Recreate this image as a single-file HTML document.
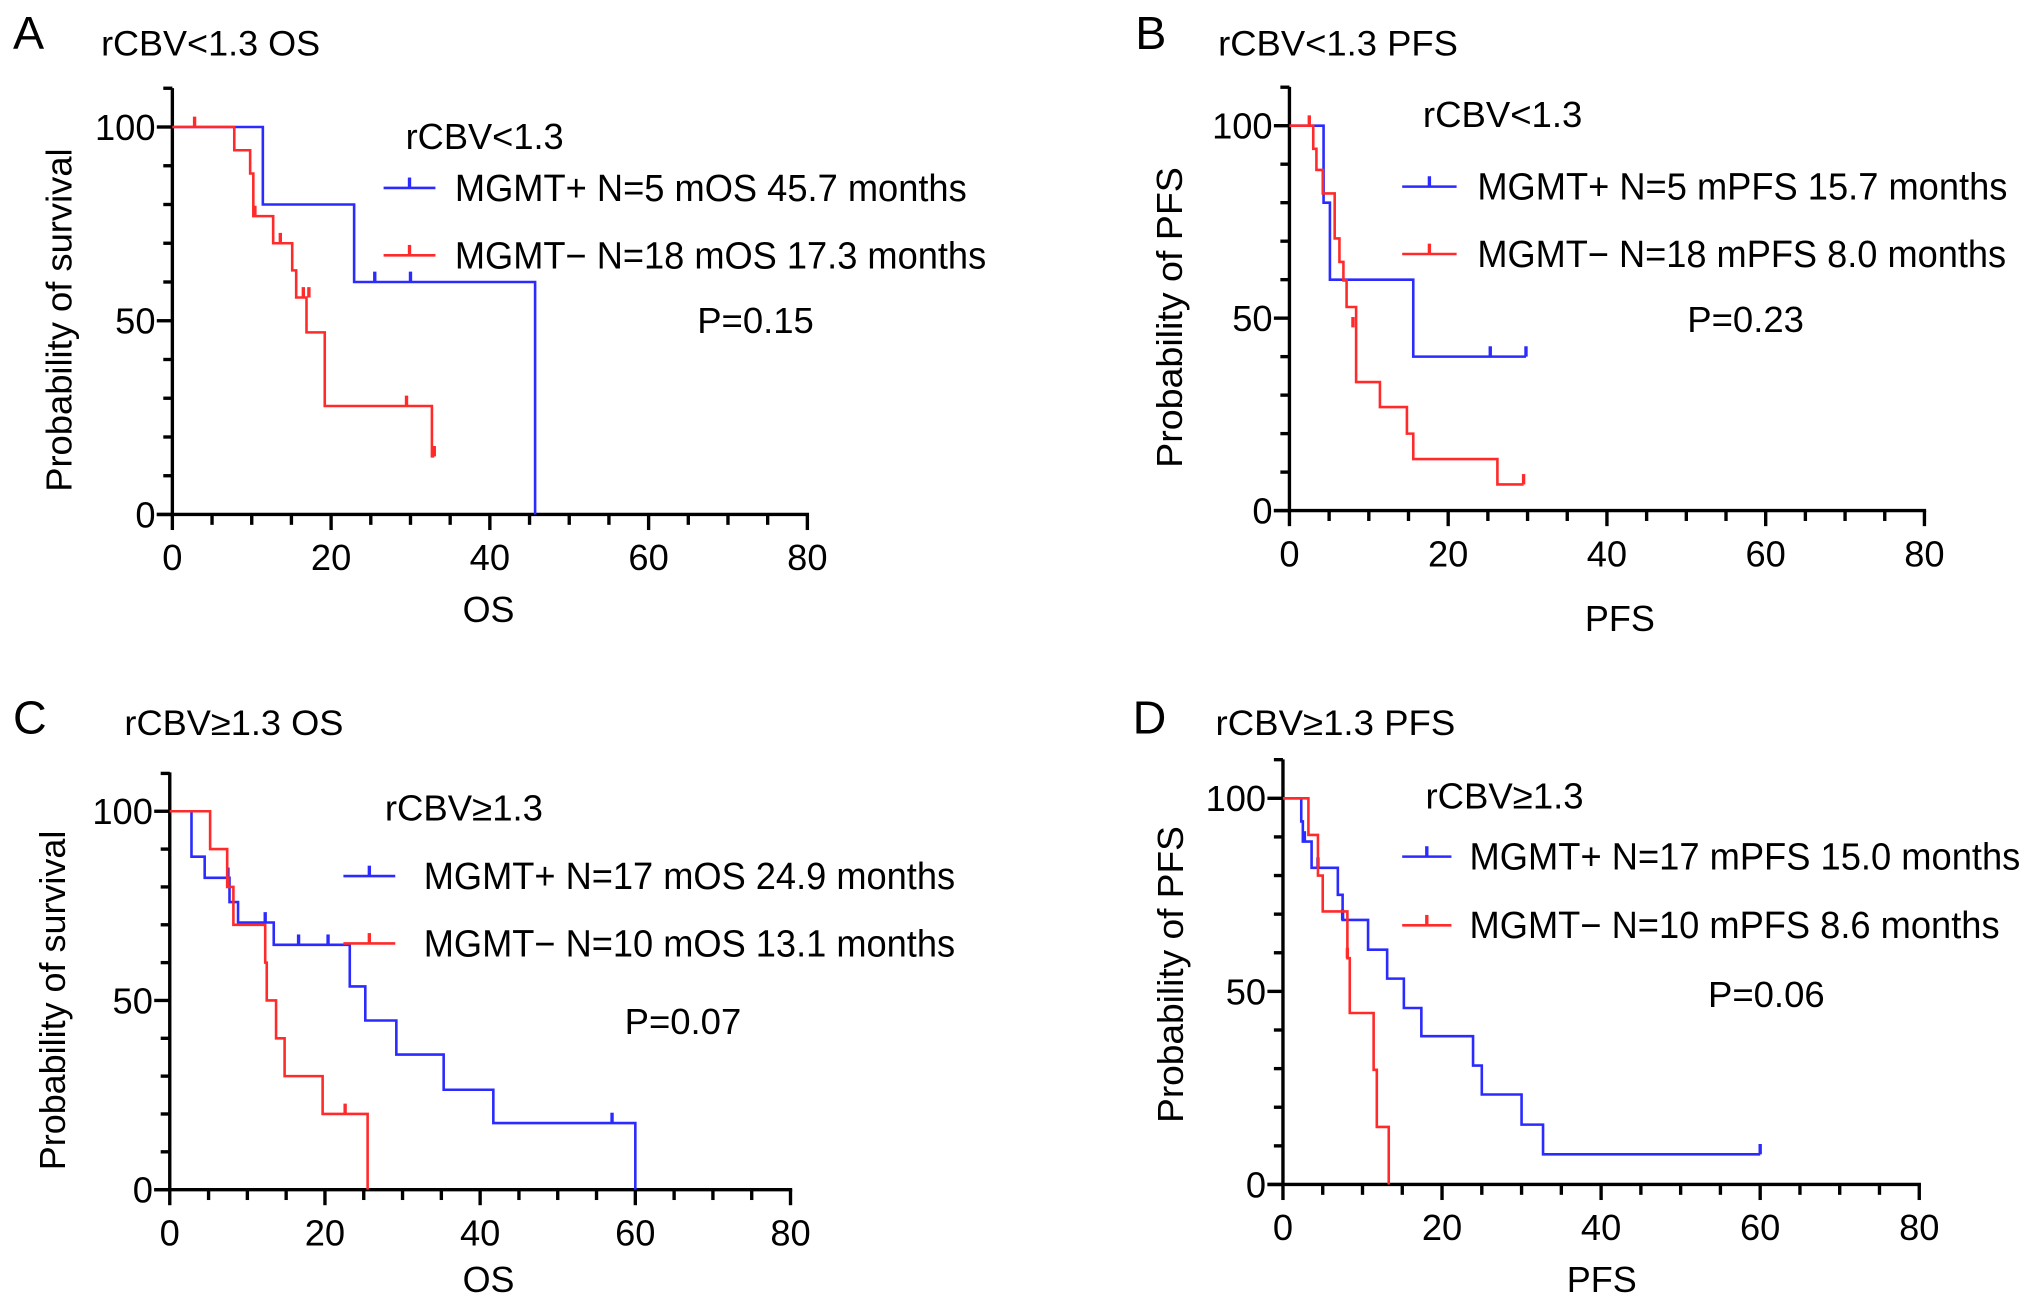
<!DOCTYPE html>
<html><head><meta charset="utf-8"><title>KM curves</title>
<style>html,body{margin:0;padding:0;background:#fff;}svg{display:block;}</style></head>
<body>
<svg id="fig" xmlns="http://www.w3.org/2000/svg" width="2032" height="1305" viewBox="0 0 1568 1007" preserveAspectRatio="none" font-family="'Liberation Sans', Arial, sans-serif"></svg>
<script>
// ---- data (months, survival %) ----
const aPosT=[0,11.4,22.9,45.7], aPosS=[100,80,60,0], aPosCT=[25.5,30], aPosCS=[60,60];
const aNegT=[0,7.8,9.8,10.2,12.7,15.1,15.6,16.9,19.2,32.7], aNegS=[100,94,88,77,70,63,56,47,28,15], aNegCT=[2.8,10.4,13.6,16.5,17.2,29.5,33], aNegCS=[100,77,70,56,56,28,15];
const bPosT=[0,4.3,5.1,15.6], bPosS=[100,80,60,40], bPosCT=[25.3,29.8], bPosCS=[40,40];
const bNegT=[0,3.0,3.4,4.2,5.7,6.3,6.8,7.2,8.4,11.4,14.8,15.6,26.2], bNegS=[100,94,88.5,82.4,70.7,64.6,59.8,52.9,33.4,26.9,20,13.4,6.8], bNegCT=[2.5,8.0,29.5], bNegCS=[100,47.6,6.8];
const cPosT=[0,2.8,4.5,7.7,8.8,13.4,23.2,25.2,29.2,35.3,41.7,60], cPosS=[100,88,82.4,76,70.6,64.7,53.7,44.7,35.7,26.4,17.6,0], cPosCT=[7.5,12.3,16.6,20.4,57], cPosCS=[82.4,70.6,64.7,64.7,17.6];
const cNegT=[0,5.2,7.4,8.2,12.3,12.5,13.7,14.8,19.7,25.5], cNegS=[100,90,80,70,60,50,40,30,20,0], cNegCT=[7.5,22.6], cNegCS=[80,20];
const dPosT=[0,2.3,2.5,3.6,6.9,7.5,10.7,13.1,15.2,17.4,23.9,25,30,32.7], dPosS=[100,94,88.8,82,75,68.5,60.8,53.3,45.7,38.4,30.8,23.3,15.5,7.8], dPosCT=[2.7,4.4,7.5,60], dPosCS=[88.8,82,68.5,7.8];
const dNegT=[0,3.2,4.4,5.0,8.1,8.4,11.4,11.8,13.3], dNegS=[100,90.5,80,70.7,58.6,44.4,29.7,14.9,0], dNegCT=[8.1], dNegCS=[58.6];
const xTicks=[0,20,40,60,80];
const yTicks=[0,50,100];

const svg=document.getElementById('fig');
const NS='http://www.w3.org/2000/svg';
function el(tag,attrs,parent){const e=document.createElementNS(NS,tag);for(const k in attrs)e.setAttribute(k,attrs[k]);(parent||svg).appendChild(e);return e;}
function txt(s,attrs,parent){const e=el('text',attrs,parent);e.textContent=s;return e;}

const panels=[
 {id:'a',letter:'A',lx:10,ly:38,title:'rCBV<1.3 OS',tx:78,ty:43,tw:169,x0:133,x80:623,y0:397,y100:98,top:68,
  xt:'OS',xtx:377,xty:480,xtw:40,yt:'Probability of survival',ytx:45,yty:247,ytw:265,
  hdr:'rCBV<1.3',hx:313,hy:115,hw:122,lgx1:296,lgx2:336,lgy1:145,lgy2:197,lgt:351,
  l1:'MGMT+ N=5 mOS 45.7 months',l1w:395,l2:'MGMT\u2212 N=18 mOS 17.3 months',l2w:410,p:'P=0.15',px:538,py:257,
  pos:[aPosT,aPosS,aPosCT,aPosCS],neg:[aNegT,aNegS,aNegCT,aNegCS]},
 {id:'b',letter:'B',lx:876,ly:38,title:'rCBV<1.3 PFS',tx:940,ty:43,tw:185,x0:995,x80:1485,y0:394,y100:97,top:67,
  xt:'PFS',xtx:1250,xty:487,xtw:54,yt:'Probability of PFS',ytx:902,yty:245,ytw:232,
  hdr:'rCBV<1.3',hx:1098,hy:98,hw:123,lgx1:1082,lgx2:1124,lgy1:144,lgy2:196,lgt:1140,
  l1:'MGMT+ N=5 mPFS 15.7 months',l1w:409,l2:'MGMT\u2212 N=18 mPFS 8.0 months',l2w:408,p:'P=0.23',px:1302,py:256,
  pos:[bPosT,bPosS,bPosCT,bPosCS],neg:[bNegT,bNegS,bNegCT,bNegCS]},
 {id:'c',letter:'C',lx:10,ly:566,title:'rCBV\u22651.3 OS',tx:96,ty:567,tw:169,x0:131,x80:610,y0:918,y100:626,top:596,
  xt:'OS',xtx:377,xty:997,xtw:40,yt:'Probability of survival',ytx:40,yty:772,ytw:262,
  hdr:'rCBV\u22651.3',hx:297,hy:633,hw:122,lgx1:265,lgx2:305,lgy1:676,lgy2:728,lgt:327,
  l1:'MGMT+ N=17 mOS 24.9 months',l1w:410,l2:'MGMT\u2212 N=10 mOS 13.1 months',l2w:410,p:'P=0.07',px:482,py:798,
  pos:[cPosT,cPosS,cPosCT,cPosCS],neg:[cNegT,cNegS,cNegCT,cNegCS]},
 {id:'d',letter:'D',lx:874,ly:566,title:'rCBV\u22651.3 PFS',tx:938,ty:567,tw:185,x0:990,x80:1481,y0:914,y100:616,top:586,
  xt:'PFS',xtx:1236,xty:997,xtw:54,yt:'Probability of PFS',ytx:903,yty:752,ytw:229,
  hdr:'rCBV\u22651.3',hx:1100,hy:624,hw:122,lgx1:1082,lgx2:1120,lgy1:661,lgy2:714,lgt:1134,
  l1:'MGMT+ N=17 mPFS 15.0 months',l1w:425,l2:'MGMT\u2212 N=10 mPFS 8.6 months',l2w:409,p:'P=0.06',px:1318,py:777,
  pos:[dPosT,dPosS,dPosCT,dPosCS],neg:[dNegT,dNegS,dNegCT,dNegCS]}
];

const BLUE='#2b2bff', RED='#ff2b2b';
panels.forEach(P=>{
  const g=el('g',{});
  
  
  const X=v=>P.x0+(P.x80-P.x0)*v/80;
  const Y=v=>P.y0+(P.y100-P.y0)*v/100;
  const L=txt(P.letter,{x:P.lx,y:P.ly,'font-size':36},g);
  
  
  const T=txt(P.title,{x:P.tx,y:P.ty,'font-size':27,textLength:P.tw,lengthAdjust:'spacingAndGlyphs'},g);
  
  
  // axes
  const ax=el('g',{stroke:'#000','stroke-width':2.6,fill:'none'},g);
  
  
  el('line',{x1:P.x0,y1:P.top,x2:P.x0,y2:P.y0+1},ax);
  el('line',{x1:P.x0-12,y1:P.y0,x2:P.x80+1.3,y2:P.y0},ax);
  for(let v=0;v<=80;v+=5){const major=v%20===0;el('line',{x1:X(v),y1:P.y0,x2:X(v),y2:P.y0+(major?12:8)},ax);}
  const ymax=(P.y0-P.top)/((P.y0-P.y100)/100);
  for(let v=0;v<=ymax;v+=10){const major=v%50===0;el('line',{x1:P.x0,y1:Y(v),x2:P.x0-(major?12:7),y2:Y(v)},ax);}
  xTicks.forEach(v=>{const t=txt(String(v),{x:X(v),y:P.y0+43,'font-size':28,'text-anchor':'middle'},g);
    
    });
  yTicks.forEach(v=>{const t=txt(String(v),{x:P.x0-13,y:Y(v)+10,'font-size':28,'text-anchor':'end'},g);
    
    });
  const xt=txt(P.xt,{x:P.xtx,y:P.xty,'font-size':28,'text-anchor':'middle',textLength:P.xtw,lengthAdjust:'spacingAndGlyphs'},g);
  
  
  const yt=txt(P.yt,{x:0,y:0,'font-size':28,'text-anchor':'middle',textLength:P.ytw,lengthAdjust:'spacingAndGlyphs',transform:`translate(${P.ytx+10},${P.yty}) rotate(-90)`},g);
  
  
  // curves
  [[P.pos,BLUE,'mgmt-pos'],[P.neg,RED,'mgmt-neg']].forEach(([D,c,nm])=>{
    const [t,s,ct,cs]=D;
    let d=`M${X(t[0])},${Y(s[0])}`;
    for(let i=1;i<t.length;i++){d+=` H${X(t[i])} V${Y(s[i])}`;}
    const lastC=ct.length?Math.max(...ct):0;
    if(lastC>t[t.length-1]) d+=` H${X(lastC)}`;
    const p=el('path',{d:d,stroke:c,'stroke-width':2,fill:'none'},g);
    
    
    ct.forEach((v,i)=>{const m=el('line',{x1:X(v),y1:Y(cs[i]),x2:X(v),y2:Y(cs[i])-8,stroke:c,'stroke-width':2.6},g);
      
      });
  });
  // legend
  const h=txt(P.hdr,{x:P.hx,y:P.hy,'font-size':28,textLength:P.hw,lengthAdjust:'spacingAndGlyphs'},g);
  
  
  [[P.lgy1,BLUE,P.l1,P.l1w,'legend-entry-mgmt-pos'],[P.lgy2,RED,P.l2,P.l2w,'legend-entry-mgmt-neg']].forEach(([y,c,s,w,nm])=>{
    const lg=el('g',{},g);
    
    
    el('line',{x1:P.lgx1,y1:y,x2:P.lgx2,y2:y,stroke:c,'stroke-width':2},lg);
    el('line',{x1:(P.lgx1+P.lgx2)/2,y1:y,x2:(P.lgx1+P.lgx2)/2,y2:y-8,stroke:c,'stroke-width':2.6},lg);
    txt(s,{x:P.lgt,y:y+10,'font-size':29,textLength:w,lengthAdjust:'spacingAndGlyphs'},lg);
  });
  const pv=txt(P.p,{x:P.px,y:P.py,'font-size':28,textLength:90,lengthAdjust:'spacingAndGlyphs'},g);
  
  
});
</script>
</body></html>
